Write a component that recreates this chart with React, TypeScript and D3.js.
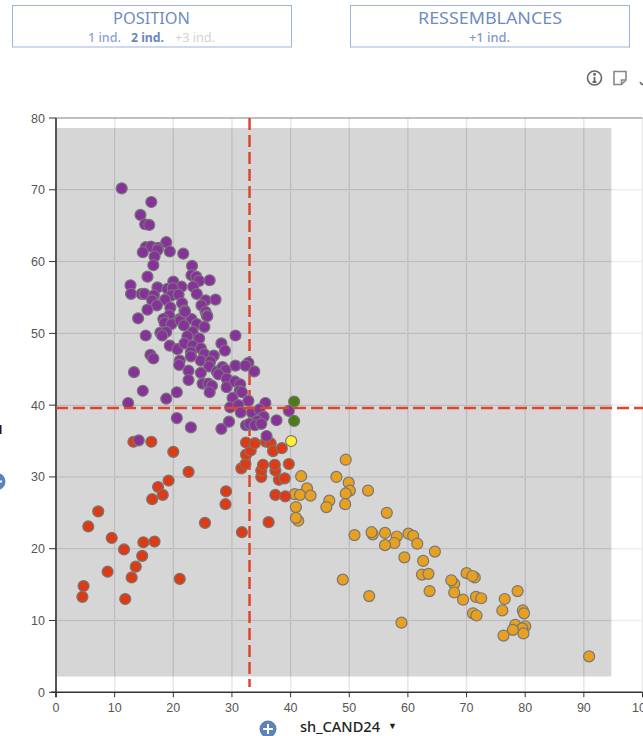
import React from "react";
import * as d3 from "d3";

const WIDTH = 643;
const HEIGHT = 736;

const xTicks = [0, 10, 20, 30, 40, 50, 60, 70, 80, 90, 100];
const yTicks = [0, 10, 20, 30, 40, 50, 60, 70, 80];
const medianX = 33;
const medianY = 39.6;
const zoneX = [0, 94.7];
const zoneY = [2.2, 78.6];

type P = [number, number];

const purple: P[] = [
  [11.2,70.2],[16.25,68.3],[14.4,66.5],[15.2,65.2],[15.9,65.1],[18.8,62.7],[15.3,62],[16.2,62.1],[17.4,61.9],[17.3,61.6],
  [14.8,61.3],[19.4,61.4],[21.7,61.1],[16.8,60.7],[16.6,59.5],[23.2,59.4],[15.6,57.9],[23.1,58.1],[23.9,57.9],[24.4,57.3],
  [26.2,57.4],[20,57.2],[12.7,56.7],[12.8,55.5],[17.3,56.4],[19,56.2],[21.4,56.5],[23.4,56.5],[19.9,56.3],[14.6,55.5],
  [15.1,55.5],[16.7,55.3],[19.7,55.3],[20.9,55.4],[24,55.5],[18.6,54.7],[16.4,54.6],[25.5,54.6],[27.2,54.7],[17.2,53.9],
  [15.6,53.3],[19.5,53.6],[21.5,54.2],[24.8,53.9],[21.9,53.2],[25.5,53],[25.7,52.5],[14,52.1],[19.3,52.5],[18.3,52],
  [21.1,52],[22.4,52.1],[23.1,52],[18.5,51.5],[19.7,51.3],[21.2,51.8],[21.8,51.1],[24,51.3],[25.3,50.9],[25.8,52.4],
  [22,53],[15.3,49.7],[17.8,50.1],[18.8,50.2],[18.1,49.7],[23.3,50.2],[22.4,49.6],[24.4,49.3],[30.6,49.7],[19.4,48.3],
  [20.7,47.8],[21.9,48.6],[23.3,48.3],[24.7,47.9],[28.2,48.6],[28.8,47.6],[16.1,47],[16.6,46.5],[23,47.4],[23,46.8],
  [25.3,47.1],[26.9,46.9],[24.7,46.2],[26.3,46.1],[21.1,46.2],[21,45.6],[26.1,45.4],[30.6,45.5],[32.8,45.9],[32.3,45.5],
  [22.6,44.8],[24.7,44.5],[27.4,44.7],[28.4,45.3],[28.9,44.9],[27.7,44.3],[33.8,44.7],[13.3,44.6],[22.6,43.5],[25,43],
  [26,43],[26.6,42.7],[26.2,41.8],[29.1,43.7],[29.1,42.5],[30.5,43.3],[31.4,42.9],[31.3,42],[31.7,41.8],[30.1,41],
  [14.8,42],[20.6,41.8],[18.8,40.9],[12.3,40.3],[32.8,40.6],[35.7,40.3],[29.7,39.7],[31.1,40],[31.5,39],[33.4,39],
  [34.7,39.4],[35.4,38.4],[39.7,39.2],[20.6,38.2],[23,36.9],[28.2,36.7],[29.5,37.7],[32.4,37.2],[34.3,37.8],[33,37.4],
  [33.9,37.2],[35,37.4],[37.6,37.9],[35.9,35.7],[14.1,35.1],
];
const red: P[] = [
  [13.2,34.9],[16.25,34.9],[20,33.5],[22.6,30.7],[19.2,29.5],[17.4,28.6],[18.2,27.5],[16.4,26.9],[7.2,25.2],[5.5,23.1],
  [9.5,21.5],[14.9,20.9],[16.8,21],[11.6,19.9],[14.7,19],[8.8,16.8],[13.6,17.5],[12.9,16],[21.1,15.8],[4.7,14.8],
  [4.5,13.3],[11.8,13],[25.4,23.6],[29,28],[28.9,26.2],[31.7,22.3],[36.25,23.7],[37.4,27.5],[39.1,27.3],[38,29.6],
  [39,29.8],[35,30],[35,30.9],[35.3,31.7],[37.4,30.9],[37.3,31.7],[39.7,31.8],[31.6,31.2],[32.3,31.8],[32.4,33.1],
  [33.2,33.7],[32.4,34.8],[33.9,34.7],[35.8,34.9],[36.6,34.7],[37,33.6],[38.5,34],
];
const orange: P[] = [
  [41.8,30.1],[49.4,32.4],[47.8,30],[49.9,29.2],[50.1,28.1],[49.4,27.7],[53.2,28.1],[42.8,28.4],[40.7,27.6],[41.6,27.5],
  [43.4,27.4],[40.9,25.8],[46.6,26.7],[46.1,25.8],[49.3,26.2],[41.3,23.9],[40.9,24.3],[56.4,25],[50.9,21.9],[54,22],
  [53.8,22.3],[56.1,22.2],[58.1,21.7],[60.1,22.1],[60.9,21.8],[57.7,20.8],[56.1,20.5],[61.6,20.7],[64.6,19.6],[59.4,18.8],
  [62.6,18.3],[62.4,16.4],[63.5,16.5],[48.9,15.7],[67.9,15.1],[67.4,15.6],[70,16.6],[71.4,16],[71,16.2],[63.7,14.1],
  [67.9,13.9],[53.4,13.4],[69.4,12.9],[71.6,13.3],[72.5,13.1],[76.5,13],[78.7,14.1],[76.1,11.4],[79.6,11.4],[79.8,11],
  [71.1,11],[71.7,10.7],[58.9,9.7],[78.3,9.4],[80,9.2],[79.5,8.9],[77.9,8.7],[79.7,8.2],[76.3,7.9],[90.9,5],
];
const green: P[] = [[40.6,40.5],[40.6,37.8]];
const yellow: P[] = [[40.1,35]];

const series: { pts: P[]; color: string }[] = [
  { pts: orange, color: "#e8a021" },
  { pts: red, color: "#dd3b14" },
  { pts: green, color: "#4a7d14" },
  { pts: yellow, color: "#ffee33" },
  { pts: purple, color: "#87329b" },
];

const modes = [
  { label: "1 ind.", x: 88, w: 33, color: "#8ba3d0", weight: 500 },
  { label: "2 ind.", x: 131, w: 33, color: "#6c86bd", weight: 700 },
  { label: "+3 ind.", x: 175, w: 40, color: "#d2d2d2", weight: 400 },
  { label: "+1 ind.", x: 469, w: 41, color: "#7f9acb", weight: 500 },
];

const uiFont = "'Noto Sans', sans-serif";
const tickFont = "'Liberation Sans', Arial, sans-serif";

function PlusBadge({ cx, cy }: { cx: number; cy: number }) {
  return (
    <g>
      <circle cx={cx} cy={cy} r={8.5} fill="#5d82b8" />
      <path d={`M${cx - 5},${cy}H${cx + 5}M${cx},${cy - 5}V${cy + 5}`} stroke="#fff" strokeWidth={2} />
    </g>
  );
}

function Box({ x, w, title, tx, tw }: { x: number; w: number; title: string; tx: number; tw: number }) {
  return (
    <g>
      <rect x={x + 0.5} y={5.5} width={w} height={41.5} fill="#fff" stroke="#9fb3dc" strokeWidth={1} />
      <text x={tx} y={23.5} fontFamily={uiFont} fontSize={17} fill="#6f8bc4" textLength={tw} lengthAdjust="spacingAndGlyphs">
        {title}
      </text>
    </g>
  );
}

export default function App() {
  const x = d3.scaleLinear().domain([0, 100]).range([56, 642.5]);
  const y = d3.scaleLinear().domain([0, 80]).range([692.3, 118]);

  return (
    <svg width={WIDTH} height={HEIGHT} viewBox={`0 0 ${WIDTH} ${HEIGHT}`}
      style={{ position: "absolute", left: 0, top: 0, display: "block", background: "#fff" }}>
      <Box x={12} w={279} title="POSITION" tx={113} tw={77} />
      <Box x={350} w={279} title="RESSEMBLANCES" tx={418} tw={144} />
      {modes.map((m) => (
        <text key={m.label} x={m.x} y={42.3} fontFamily={uiFont} fontSize={13} fontWeight={m.weight} fill={m.color}
          textLength={m.w} lengthAdjust="spacingAndGlyphs">{m.label}</text>
      ))}

      {/* toolbar icons */}
      <g fill="none" stroke="#666" strokeWidth={1.6}>
        <circle cx={594.5} cy={78} r={7} />
        <path d="M594.5,77V82M592.6,82H596.4" strokeWidth={1.8} />
        <circle cx={594.5} cy={74.3} r={0.7} fill="#666" />
        <path d="M614,71.5H626V80L621.5,84.5H614Z" stroke="#888" />
        <path d="M621.5,84.5V80H626" stroke="#888" />
        <path d="M640,82Q641,84.5 643,84.5" />
      </g>

      {/* zone */}
      <rect x={x(zoneX[0])} width={x(zoneX[1]) - x(zoneX[0])} y={y(zoneY[1])} height={y(zoneY[0]) - y(zoneY[1])} fill="#d6d6d6" />

      {/* grid */}
      {xTicks.slice(1).map((t) => (
        <g key={t}>
          <line x1={x(t)} x2={x(t)} y1={y(80)} y2={y(0)} stroke="#e6e6e6" strokeWidth={1.5} />
          {x(t) < x(zoneX[1]) && (
            <line x1={x(t)} x2={x(t)} y1={y(zoneY[1])} y2={y(zoneY[0])} stroke="#bdbdbd" strokeWidth={1.5} />
          )}
        </g>
      ))}
      {yTicks.slice(1).map((t) => (
        <g key={t}>
          <line x1={x(0)} x2={x(100)} y1={y(t)} y2={y(t)} stroke={t === 80 ? "#aaaaaa" : "#eeeeee"} strokeWidth={1.5} />
          {t < zoneY[1] && (
            <line x1={x(zoneX[0])} x2={x(zoneX[1])} y1={y(t)} y2={y(t)} stroke="#bdbdbd" strokeWidth={1.5} />
          )}
        </g>
      ))}

      {/* axes */}
      <line x1={x(0)} x2={x(0)} y1={y(80)} y2={y(0) + 5} stroke="#555" strokeWidth={2} />
      <line x1={x(0) - 5} x2={x(100)} y1={y(0)} y2={y(0)} stroke="#333" strokeWidth={1.5} />
      {xTicks.map((t) => (
        <g key={t}>
          <line x1={x(t)} x2={x(t)} y1={y(0)} y2={y(0) + 5} stroke="#333" strokeWidth={1} />
          <text x={x(t)} y={711.5} textAnchor="middle" fontFamily={tickFont} fontSize={12.5} fill="#555">{t}</text>
        </g>
      ))}
      {yTicks.map((t) => (
        <g key={t}>
          <line x1={x(0) - 7} x2={x(0)} y1={y(t)} y2={y(t)} stroke="#333" strokeWidth={1} />
          <text x={45} y={y(t) + 4.5} textAnchor="end" fontFamily={tickFont} fontSize={12.5} fill="#555">{t}</text>
        </g>
      ))}

      {/* median lines */}
      <line x1={x(medianX)} x2={x(medianX)} y1={y(80)} y2={687} stroke="#e0442a" strokeWidth={2.5} strokeDasharray="12 5" />

      {/* points */}
      {series.map((s) =>
        s.pts.map((p, i) => (
          <circle key={s.color + i} cx={x(p[0])} cy={y(p[1])} r={5.5} fill={s.color} stroke="#777" strokeWidth={1.2} />
        ))
      )}

      <line x1={x(0)} x2={WIDTH} y1={y(medianY)} y2={y(medianY)} stroke="#e0442a" strokeWidth={2.5} strokeDasharray="12 5" />

      {/* axis title & controls */}
      <text x={300} y={731.5} fontFamily={uiFont} fontSize={14} fontWeight={500} fill="#222" textLength={80} lengthAdjust="spacingAndGlyphs">sh_CAND24</text>
      <text x={388} y={729} fontFamily={tickFont} fontSize={9} fill="#222">▼</text>
      <PlusBadge cx={268} cy={729} />
      <PlusBadge cx={-3} cy={481.5} />
      <rect x={0} y={425} width={1.5} height={9} fill="#2a0a50" />
    </svg>
  );
}
